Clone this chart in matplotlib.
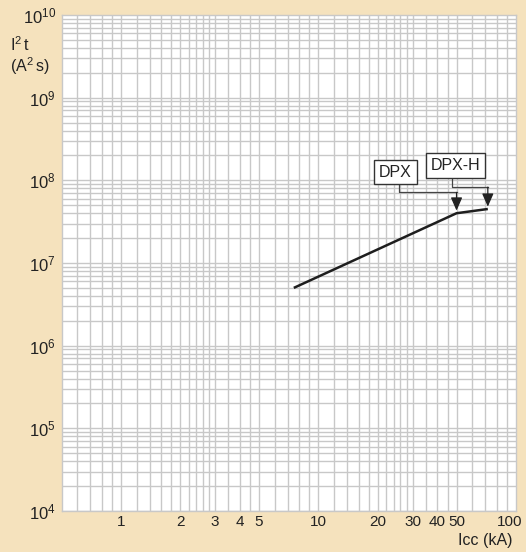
import matplotlib
matplotlib.use("Agg")
import matplotlib.pyplot as plt
import matplotlib.transforms as mtransforms
import numpy as np

plt.rcParams['font.family'] = ['Liberation Sans', 'DejaVu Sans']
plt.rcParams['mathtext.fontset'] = 'custom'
plt.rcParams['mathtext.rm'] = 'Liberation Sans'
plt.rcParams['mathtext.it'] = 'Liberation Sans'

# let-through energy curve (Icc in kA, I2t in A2s)
icc_ka = [7.5, 50, 72]
i2t = [5e6, 4e7, 4.5e7]

x_ticks = [1, 2, 3, 4, 5, 10, 20, 30, 40, 50, 100]
y_ticks = [1e4, 1e5, 1e6, 1e7, 1e8, 1e9, 1e10]

# minor grid steps inside each decade
x_steps = [1, 1.2, 1.4, 1.6, 1.8, 2, 2.2, 2.4, 2.6, 2.8, 3, 3.5, 4, 4.5, 5, 6, 7, 8, 9]
y_steps = [1, 2, 3, 4, 5, 6, 7, 8, 9]

bg = '#f5e2bd'
grid_col = '#c8c8c8'
txt_col = '#222222'

fig = plt.figure(figsize=(5.26, 5.52), dpi=100, facecolor=bg)
ax = fig.add_axes([61.5 / 526, 1 - 511 / 552, (516 - 61.5) / 526, (511 - 15) / 552])
ax.set_facecolor('white')
ax.set_xscale('log')
ax.set_yscale('log')
ax.set_xlim(0.5, 100)
ax.set_ylim(1e4, 1e10)

# grid
for dec in [0.1, 1, 10]:
    for s in x_steps:
        v = s * dec
        if 0.5 < v < 100:
            ax.axvline(v, color=grid_col, lw=1.0, zorder=1)
for dec in [1e4, 1e5, 1e6, 1e7, 1e8, 1e9]:
    for s in y_steps:
        ax.axhline(s * dec, color=grid_col, lw=1.0, zorder=1)

for sp in ax.spines.values():
    sp.set_color(grid_col)
    sp.set_linewidth(1.0)

ax.set_xticks(x_ticks)
ax.set_xticklabels([str(t) for t in x_ticks], fontsize=11)
ax.set_yticks(y_ticks)
ax.set_yticklabels([r'$\mathregular{10^{%d}}$' % int(np.log10(t)) for t in y_ticks], fontsize=12)
ax.minorticks_off()
ax.tick_params(length=0, colors=txt_col)
ax.tick_params(axis='x', pad=3)
ax.tick_params(axis='y', pad=4)

# last x label sits a little left of its line, as in the original
last = ax.get_xticklabels()[-1]
last.set_transform(last.get_transform() + mtransforms.ScaledTranslation(-6 / 100, 0, fig.dpi_scale_trans))

# curve
ax.plot(icc_ka, i2t, color='#1e1e1e', lw=1.8, solid_capstyle='butt', zorder=5)

# labels
ax.text(24.5, 1.26e8, 'DPX', fontsize=11.5, ha='center', va='center', zorder=7, color=txt_col,
        bbox=dict(boxstyle='square,pad=0.3', fc='white', ec='#333333', lw=1))
ax.text(49.6, 1.51e8, 'DPX-H', fontsize=11.5, ha='center', va='center', zorder=7, color=txt_col,
        bbox=dict(boxstyle='square,pad=0.3', fc='white', ec='#333333', lw=1))

# connectors with arrows
ax.plot([25.6, 25.6, icc_ka[1]], [9.2e7, 7.14e7, 7.14e7], color='#444444', lw=0.9, zorder=6)
ax.annotate('', xy=(icc_ka[1], 4.3e7), xytext=(icc_ka[1], 7.14e7), zorder=6,
            arrowprops=dict(arrowstyle='-|>,head_length=0.8,head_width=0.35',
                            color='#222222', lw=0.9, shrinkA=0, shrinkB=0))
ax.plot([47.3, 47.3, icc_ka[2]], [1.08e8, 8.28e7, 8.28e7], color='#444444', lw=0.9, zorder=6)
ax.annotate('', xy=(icc_ka[2], 4.8e7), xytext=(icc_ka[2], 8.28e7), zorder=6,
            arrowprops=dict(arrowstyle='-|>,head_length=0.8,head_width=0.35',
                            color='#222222', lw=0.9, shrinkA=0, shrinkB=0))

# axis titles
fig.text(10 / 526, 1 - 45 / 552, r'$\mathregular{I^2\,t}$', fontsize=11.5, va='center', ha='left', color=txt_col)
fig.text(10 / 526, 1 - 66 / 552, r'$\mathregular{(A^2\,s)}$', fontsize=11.5, va='center', ha='left', color=txt_col)
fig.text(512 / 526, 1 - 541 / 552, 'Icc (kA)', fontsize=11.5, va='center', ha='right', color=txt_col)

fig.savefig('out.png', dpi=100, facecolor=bg)
